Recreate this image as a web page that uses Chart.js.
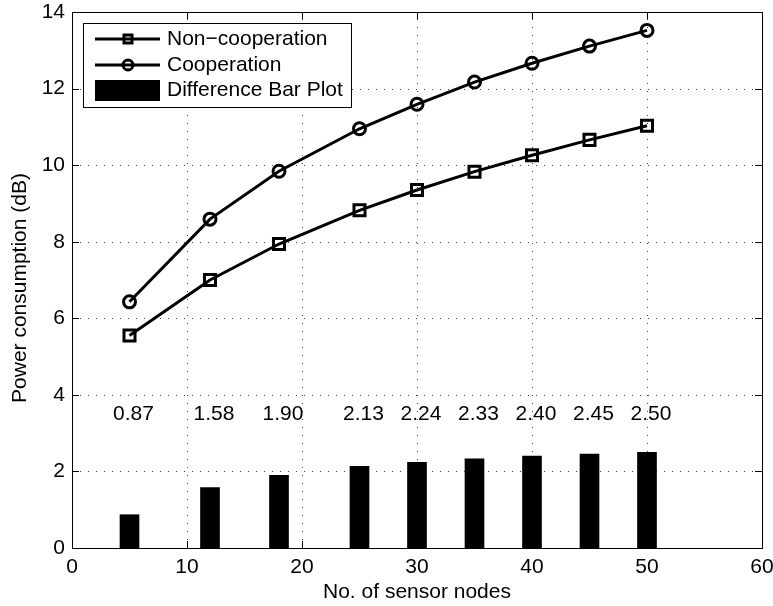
<!DOCTYPE html>
<html>
<head>
<meta charset="utf-8">
<script src="https://cdn.jsdelivr.net/npm/chart.js@4/dist/chart.umd.min.js"></script>
<style>
html,body{margin:0;padding:0;background:#fff;}
#wrap{width:773px;height:606px;position:relative;}
</style>
</head>
<body>
<div id="wrap"><canvas id="c" width="773" height="606"></canvas></div>
<script>
const nodes = [5, 12, 18, 25, 30, 35, 40, 45, 50];
const nonCoop = [5.55, 7.00, 7.94, 8.82, 9.35, 9.83, 10.26, 10.66, 11.03];
const coop = [6.43, 8.59, 9.84, 10.95, 11.59, 12.17, 12.66, 13.11, 13.52];
const diff = [0.87, 1.58, 1.90, 2.13, 2.24, 2.33, 2.40, 2.45, 2.50];
const diffLabels = ['0.87', '1.58', '1.90', '2.13', '2.24', '2.33', '2.40', '2.45', '2.50'];
const xTicks = [0, 10, 20, 30, 40, 50, 60];
const yTicks = [0, 2, 4, 6, 8, 10, 12, 14];
const seriesNames = ['Non\u2212cooperation', 'Cooperation', 'Difference Bar Plot'];
const LABEL_Y = 3.5;

const FONT = '"Liberation Sans", Arial, Helvetica, sans-serif';
const FS = 21;
const toXY = (ys) => nodes.map((x, i) => ({x: x, y: ys[i]}));

const decor = {
  id: 'decor',
  beforeDatasetsDraw(chart) {
    const {ctx, chartArea: a, scales: {x, y}} = chart;
    ctx.save();
    ctx.strokeStyle = 'rgba(0,0,0,0.75)';
    ctx.lineWidth = 1;
    ctx.setLineDash([1, 7]);
    xTicks.forEach(v => {
      if (v === xTicks[0] || v === xTicks[xTicks.length - 1]) return;
      const px = Math.round(x.getPixelForValue(v)) + 0.5;
      ctx.beginPath(); ctx.moveTo(px, a.bottom); ctx.lineTo(px, a.top); ctx.stroke();
    });
    yTicks.forEach(v => {
      if (v === yTicks[0] || v === yTicks[yTicks.length - 1]) return;
      const py = Math.round(y.getPixelForValue(v)) + 0.5;
      ctx.beginPath(); ctx.moveTo(a.left, py); ctx.lineTo(a.right, py); ctx.stroke();
    });
    ctx.restore();
  },
  afterDraw(chart) {
    const {ctx, chartArea: a, scales: {x, y}} = chart;
    ctx.save();
    ctx.strokeStyle = '#000';
    ctx.lineWidth = 1;
    ctx.setLineDash([]);
    ctx.strokeRect(Math.round(a.left) + 0.5, Math.round(a.top) + 0.5, Math.round(a.right - a.left), Math.round(a.bottom - a.top));
    const tl = 7;
    xTicks.forEach(v => {
      const px = Math.round(x.getPixelForValue(v)) + 0.5;
      ctx.beginPath();
      ctx.moveTo(px, a.bottom); ctx.lineTo(px, a.bottom - tl);
      ctx.moveTo(px, a.top); ctx.lineTo(px, a.top + tl);
      ctx.stroke();
    });
    yTicks.forEach(v => {
      const py = Math.round(y.getPixelForValue(v)) + 0.5;
      ctx.beginPath();
      ctx.moveTo(a.left, py); ctx.lineTo(a.left + tl, py);
      ctx.moveTo(a.right, py); ctx.lineTo(a.right - tl, py);
      ctx.stroke();
    });
    ctx.fillStyle = '#000';
    ctx.font = FS + 'px ' + FONT;
    ctx.textAlign = 'center';
    ctx.textBaseline = 'middle';
    nodes.forEach((v, i) => {
      ctx.fillText(diffLabels[i], x.getPixelForValue(v) + 4, y.getPixelForValue(LABEL_Y));
    });
    ctx.fillText('No. of sensor nodes', (a.left + a.right) / 2, 592);
    ctx.save();
    ctx.translate(20, 288);
    ctx.rotate(-Math.PI / 2);
    ctx.fillText('Power consumption (dB)', 0, 0);
    ctx.restore();
    const L = {l: 83, t: 23, r: 351, b: 107};
    ctx.fillStyle = '#fff';
    ctx.fillRect(L.l, L.t, L.r - L.l, L.b - L.t);
    ctx.strokeStyle = '#000';
    ctx.lineWidth = 1;
    ctx.strokeRect(L.l + 0.5, L.t + 0.5, L.r - L.l, L.b - L.t);
    const rows = [39, 65, 90];
    const sx0 = 95, sx1 = 160, mx = 128;
    ctx.lineWidth = 3;
    ctx.beginPath(); ctx.moveTo(sx0, rows[0]); ctx.lineTo(sx1, rows[0]); ctx.stroke();
    ctx.strokeRect(mx - 4, rows[0] - 4, 8, 8);
    ctx.beginPath(); ctx.moveTo(sx0, rows[1]); ctx.lineTo(sx1, rows[1]); ctx.stroke();
    ctx.beginPath(); ctx.arc(mx, rows[1], 5, 0, Math.PI * 2); ctx.stroke();
    ctx.fillStyle = '#000';
    ctx.fillRect(sx0, 80, sx1 - sx0, 21);
    ctx.font = FS + 'px ' + FONT;
    ctx.textAlign = 'left';
    ctx.textBaseline = 'middle';
    seriesNames.forEach((n, i) => ctx.fillText(n, 167, rows[i]));
    ctx.restore();
  }
};

new Chart(document.getElementById('c'), {
  type: 'line',
  data: {
    datasets: [
      {
        type: 'line', label: seriesNames[0], data: toXY(nonCoop),
        borderColor: '#000', borderWidth: 3, pointStyle: 'rect', pointRadius: 7.8,
        pointBorderWidth: 3, pointBorderColor: '#000', pointBackgroundColor: 'rgba(0,0,0,0)',
        tension: 0, order: 1
      },
      {
        type: 'line', label: seriesNames[1], data: toXY(coop),
        borderColor: '#000', borderWidth: 3, pointStyle: 'circle', pointRadius: 6,
        pointBorderWidth: 3, pointBorderColor: '#000', pointBackgroundColor: 'rgba(0,0,0,0)',
        tension: 0, order: 1
      },
      {
        type: 'bar', label: seriesNames[2], data: toXY(diff),
        backgroundColor: '#000', borderWidth: 0, barThickness: 19, order: 2
      }
    ]
  },
  options: {
    responsive: false,
    animation: false,
    devicePixelRatio: 1,
    layout: {padding: {left: 0, top: 12, right: 11, bottom: 0}},
    plugins: {legend: {display: false}, tooltip: {enabled: false}},
    scales: {
      x: {
        type: 'linear', min: 0, max: 60, offset: false,
        grid: {display: false, drawTicks: false},
        border: {display: false},
        ticks: {stepSize: 10, color: '#000', font: {family: FONT, size: FS}, padding: 7, maxRotation: 0},
        afterFit(s) { s.height = 58; s.paddingLeft = 0; s.paddingRight = 0; }
      },
      y: {
        type: 'linear', min: 0, max: 14,
        grid: {display: false, drawTicks: false},
        border: {display: false},
        ticks: {stepSize: 2, color: '#000', font: {family: FONT, size: FS}, padding: 7},
        afterFit(s) { s.width = 72; s.paddingTop = 0; s.paddingBottom = 0; }
      }
    }
  },
  plugins: [decor]
});
</script>
</body>
</html>
